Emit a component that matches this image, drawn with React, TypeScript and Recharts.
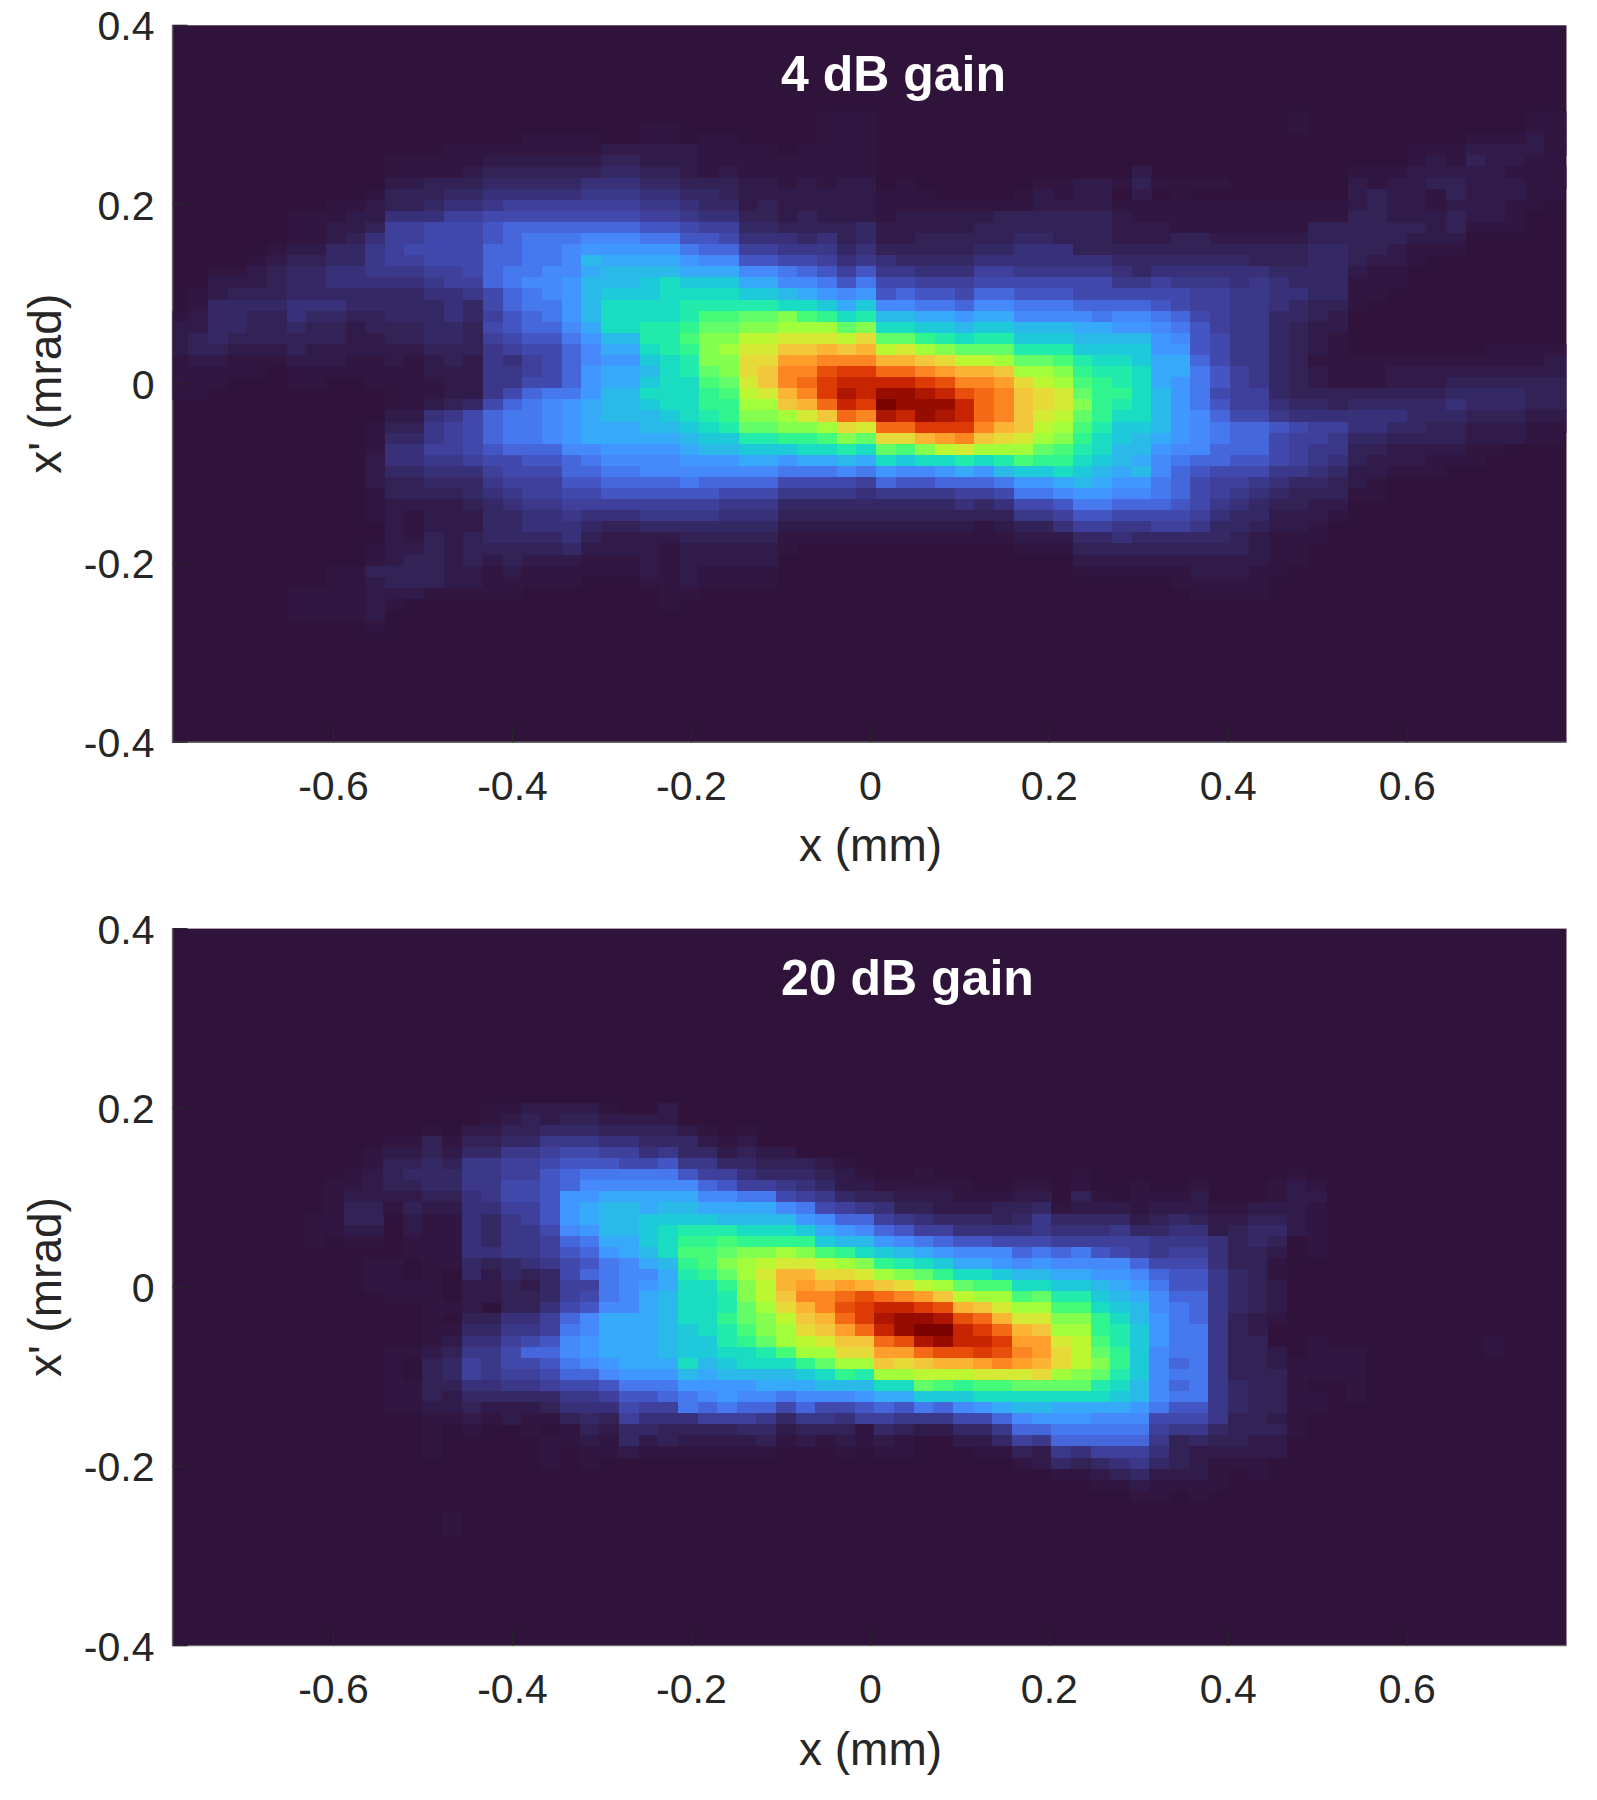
import React from "react";
import { ScatterChart, Scatter, XAxis, YAxis, CartesianGrid } from "recharts";

const xTickValues = [-0.6, -0.4, -0.2, 0, 0.2, 0.4, 0.6];
const yTickValues = [-0.4, -0.2, 0, 0.2, 0.4];
const titles = ["4 dB gain", "20 dB gain"];
const xLabel = "x (mm)";
const yLabel = "x' (mrad)";

const levelColors = [
  "#30133a", "#301640", "#311b4a", "#332256", "#352965", "#383079", "#3b388a", "#3e409c", "#4149ac",
  "#4456c4", "#4667dc", "#4678ee", "#4589fb", "#3f97ff", "#36a9f8", "#2bb9ea", "#1ecad9", "#1adcc3",
  "#23ebab", "#30f58f", "#47fb78", "#62fd68", "#84ff4f", "#a2fd3a", "#bdf731", "#d4ea35", "#e5da38",
  "#f2c73b", "#fbb433", "#fe9f2b", "#fc8622", "#f56a16", "#e84f0b", "#dd3a06", "#c72502", "#ad1701",
  "#960d00", "#7a0300",
];
const levelKeys = "0123456789abcdefghijklmnopqrstuvwxyzAB";

const topLeft = [
  "000000000000000000000000","000000000000000000000000","000000000000000000111100","000000000000001111111122",
  "000000000001111122222233","000000000001111233333344","000000000002233344444555","000000000013334455555666",
  "000000001123345567777777","000000111225557788888888","00000011223778889aaaaaaa","00000011235778889abbbccc",
  "0000012244678888aabbcddd","0000123344677888aabbcfee","0011234455666778abbcceff","0022234455555677abccdfff",
  "01233344444445568abcdfgg","01444455544444548abbdfhh","124433544334445479abdfhh","224433433233344389aacehh",
  "23433333322334437899bdff","23322232222223336788acee","12211122211212326578acdd","11111011111112226678adee",
  "11100011001111226688adee","110000000001112268abbdff","00000000000112348abcdeff","0000000000022568abbcdeff",
  "0000000000133678abbcdeee","0000000000144678abbcdeee","00000000001557789aaaccdd","00000000002556678899abcc",
  "00000000002445557888aabb","0000000000233444677799aa","000000000013333456778899","000000000012222345667777",
  "000000000012122244556555","000000000002122244555433","000000000002132344445322","000000000012232333334222",
  "000000000012332323222111","000000001133332212111111","000000001123332211111000","000000111122211111000000",
  "000000111121000000000000","000000111120000000000000","000000000010000000000000",
];
const topMiddle = [
  "000000000111000000000000","110000000111000000000000","110110000111000000000000","222111101111000000000000",
  "222111111111000000000000","332121111111000000000000","443332212122010000001122","554432222222111000012122",
  "665442322222111111112222","776553323222122222333333","998774433334222223333333","bb9985554534223333344333",
  "ddbaa7766645333334455533","eedcc9988756544445555555","ffeeeccba979665557766666","ghgggeeccb9b887778888888",
  "ghhhhggfedcd9a998aa99988","hhiiiiihhgegccbbaccbbbaa","hhikkllmkjhiffeedeeccccb","iijllmmnnnlmhhggfggfffee",
  "iikmmoopppoqlljihiigggff","hijmnpprrsrsopnmllliiigg","ghimmqqttuuussrqoonllkih","fhilmqruuwxxvvutssrnnmji",
  "ghhklpruvxyyyyxwuutqonkj","hhhjkopsuxzyAAzywvurqplj","ghhjjnnrsvyxBAAAyvurqpmj","fghijmmnprvuzyAzyvurpolj",
  "ffghillmmnqpvvxxxusronki","eefggiijjkmlqqsturqpnmjh","ddeffggghhihlkmopnnnlkih","ccdddeedeefehghhihikjjhg",
  "cccccccbbbcbdccdedfgghgf","aabaaaa88887a99aaabddefe","9999888666656666778bbcdd","7777666444444444545889bb",
  "666655533333333333366799","444444422222222221233577","223333311111111111122244","212222210000000000011133",
  "212222200000000000000022","212111100000000000000011","112111100000000000000000","011000000000000000000000",
  "010000000000000000000000","000000000000000000000000","000000000000000000000000",
];
const topRight = [
  "000000000100000000000111","000000000100000000000111","000000000000000000111211","000000000000000111222211",
  "000000000000000121322110","020000000000111222221111","131111000000212233222111","020100000000232213222110",
  "111111111111232212221100","211111111111332223221000","222111111133333323111000","222332222233333222000000",
  "333333333344332111000000","444444433344322100000000","545555554444211000000000","667666565444111000000000",
  "888877665544110000000000","aa9877665433100000000000","ccba87664432000000000000","ddcb97664322000000000000",
  "ffdc98664321000000000000","ggdd98664321000000011111","hgeea8664311111111111122","iheeb9764321112222222222",
  "ihedb9764321112223333333","jhfdb8774333333334444333","ihfdb9775443444445444333","hhfdca886555555444333222",
  "ggfdcbaa9877554433222111","gfedcbaa8776443333222110","ffdccaaa8766332222110000","fecbaa998765322211100000",
  "efca98886654221110000000","ddba87765443210000000000","ccba87654333110000000000","aaa986543322000000000000",
  "888875442221000000000000","667764432210000000000000","544444321110000000000000","333333321100000000000000",
  "222222221100000000000000","111122211000000000000000","000111110000000000000000","000011110000000000000000",
  "000000000000000000000000","000000000000000000000000","000000000000000000000000",
];

const bottomLeft = [
  "00000000000000001122221002000000","00000000000000001232332222000000","00000000000001022334443333210100",
  "00000000000113133446665544421200","00000000001223244667887756442322","00000000001334366778999889664433",
  "00000000012344466779abbbbb977544","00000000112334466889acccccca9776","00000000122223356889ddeeeeeccbb8",
  "00000000133132255779deffeffeeeec","00000001133021154679deffggggffff","00000001122021154668cdffghiiihhh",
  "00000001011011154667abeeghjjkjjj","000000000000111556679adefhkklmmn","0000000000110114345689bcefjkmnop",
  "000000000011010424348abcceijlnps","0000000000111102232477bcdehhjmos","0000000000011102233478bcefhhimor",
  "0000000000000112033589ccefhhilnq","00000000000001033557aceeefhhjlmo","00000000000001144667bceeefghikmn",
  "00000000000001255789cdeeefggijln","000000000001123668aacdeeefgghhik","00000000000103476889bcdeeehfghhh",
  "00000000000103476778aacdddfeffff","00000000000113355667889bbbddddee","0000000000011324444466799abcdccb",
  "00000000000112232223555877babaa8","00000000000001121211343755577764","00000000000001010010132443333442",
  "00000000000001000001121423222231","00000000000001000001011211111110","00000000000000000001010000000000",
  "00000000000000000000000000000000","00000000000000000000000000000000","00000000000000000000000000000000",
  "00000000000000000000000000000000","00000000000000100000000000000000","00000000000000100000000000000000",
];
const bottomRight = [
  "","","","","","321","43210010000000100000000001","542211111001101001001000121",
  "764332221112203101112000122","b87653322233412221222112221","dcaa76544434644442343223321",
  "gedca9775555655564455234421","jgffdcba9988877777666534301","mkjhgfedcccabab987677533201",
  "ponmjihgeedcdcccca8885331","sqqpnmljhhgffeeddca996431","tstsrqonlkkhhggfedb996432",
  "uuvwvutronnkliigfecaa6432","suwxyyxwsrpnnkkhgfcba6432","rsvxzAAzwvsppmmjhfdba6321",
  "qrtvyABByxvsrnnjigdbb6320","oprrvwzAyyxttpokigdbb633001000000001","nnqqttvwwxwutqoljgcbb633201110000001",
  "jlnnrqrsstutsqomjgcab63321111","ghjinnooopppqnmligcbb63331111","efffhhlkjkkllllihfcab64331001",
  "cccdeeggghhhhhhhgfcbb64331101","a889a9bacdeffeeeedb99643311","6657766688acdddccc88863321",
  "33314322446aabbbbb76643331","2121210022476aaaaa63433220","0010110001132657775322222",
  "000000000001243456432111","000000000000011234222101","0000000000000001121111","000000000000000001101",
  "","","",
];

const xDomain = [-0.78, 0.778];
const yDomain = [-0.4, 0.4];
const plotW = 1394;
const plotH = 717;
const cellW = 19.65;
const cellH = 11.09;

const toCells = (rows, firstEdgeX, firstEdgeY) => {
  const out = [];
  const dx = (cellW / plotW) * (xDomain[1] - xDomain[0]);
  const dy = (cellH / plotH) * (yDomain[1] - yDomain[0]);
  rows.forEach((row, r) => {
    row.split("").forEach((ch, c) => {
      const level = levelKeys.indexOf(ch);
      if (level > 0) {
        out.push({ x: firstEdgeX + (c + 0.5) * dx, y: firstEdgeY - (r + 0.5) * dy, level });
      }
    });
  });
  return out;
};

const topRows = topLeft.map((r, i) => r + topMiddle[i] + topRight[i]);
const bottomRows = bottomLeft.map((r, i) => r + bottomRight[i]);
const topCells = toCells(topRows, -0.7843, 0.3044);
const bottomCells = toCells(bottomRows, -0.7862, 0.2058);

const font = "'Liberation Sans', Arial, sans-serif";
const ink = "#262626";
const box = "#6a6a6a";

const fmt = (v) => (v === 0 ? "0" : String(v));

const cellShape = (p) => (
  <rect
    x={p.cx - cellW / 2}
    y={p.cy - cellH / 2}
    width={cellW + 0.4}
    height={cellH + 0.4}
    fill={levelColors[p.payload.level]}
    shapeRendering="crispEdges"
  />
);

const bottomTick = ({ x, y, payload }) => (
  <g>
    <line x1={x} x2={x} y1={y} y2={y - 15} stroke={ink} strokeWidth={1.2} />
    <text x={x} y={y + 57.7} textAnchor="middle" fontSize={41} fontFamily={font} fill={ink}>
      {fmt(payload.value)}
    </text>
  </g>
);
const topTick = ({ x, y }) => <line x1={x} x2={x} y1={y} y2={y + 15} stroke={ink} strokeWidth={1.2} />;
const leftTick = ({ x, y, payload }) => (
  <g>
    <line x1={x} x2={x + 15} y1={y} y2={y} stroke={ink} strokeWidth={1.2} />
    <text x={x - 18} y={y + 15} textAnchor="end" fontSize={41} fontFamily={font} fill={ink}>
      {fmt(payload.value)}
    </text>
  </g>
);
const rightTick = ({ x, y }) => <line x1={x} x2={x - 15} y1={y} y2={y} stroke={ink} strokeWidth={1.2} />;

function Panel({ cells, title, top, height }) {
  const plotLeft = 164.5;
  const chartW = 1589;
  return (
    <ScatterChart
      width={chartW}
      height={height}
      margin={{ top, right: chartW - plotLeft - plotW, bottom: 0, left: 0 }}
    >
      <CartesianGrid horizontal={false} vertical={false} fill={levelColors[0]} />
      <Scatter data={cells} dataKey="y" shape={cellShape} isAnimationActive={false} />
      <XAxis
        type="number"
        dataKey="x"
        domain={xDomain}
        ticks={xTickValues}
        allowDataOverflow
        height={height - top - plotH}
        tickSize={0}
        tickMargin={0}
        tickLine={false}
        tick={bottomTick}
        interval={0}
        axisLine={{ stroke: box, strokeWidth: 1.4 }}
      />
      <XAxis
        xAxisId="top"
        orientation="top"
        type="number"
        domain={xDomain}
        ticks={xTickValues}
        allowDataOverflow
        height={0}
        tickSize={0}
        tickMargin={0}
        tickLine={false}
        tick={topTick}
        interval={0}
        axisLine={{ stroke: box, strokeWidth: 1.4 }}
      />
      <YAxis
        type="number"
        dataKey="y"
        domain={yDomain}
        ticks={yTickValues}
        allowDataOverflow
        width={plotLeft}
        tickSize={0}
        tickMargin={0}
        tickLine={false}
        tick={leftTick}
        interval={0}
        axisLine={{ stroke: box, strokeWidth: 1.4 }}
      />
      <YAxis
        yAxisId="right"
        orientation="right"
        type="number"
        domain={yDomain}
        ticks={yTickValues}
        allowDataOverflow
        width={0}
        tickSize={0}
        tickMargin={0}
        tickLine={false}
        tick={rightTick}
        interval={0}
        axisLine={{ stroke: box, strokeWidth: 1.4 }}
      />
      <text x={773} y={top + 66} fontSize={50} fontWeight="bold" fontFamily={font} fill="#ffffff">
        {title}
      </text>
      <text x={plotLeft + 698} y={top + plotH + 119} textAnchor="middle" fontSize={46} fontFamily={font} fill={ink}>
        {xLabel}
      </text>
      <text
        x={53}
        y={top + plotH / 2}
        textAnchor="middle"
        fontSize={46}
        fontFamily={font}
        fill={ink}
        transform={`rotate(-90 53 ${top + plotH / 2})`}
      >
        {yLabel}
      </text>
    </ScatterChart>
  );
}

export default function App() {
  return (
    <div style={{ width: 1589, height: 1780, marginTop: -8 }}>
      <div style={{ height: 905 }}>
        <Panel cells={topCells} title={titles[0]} top={25.3} height={905} />
      </div>
      <div style={{ height: 875 }}>
        <Panel cells={bottomCells} title={titles[1]} top={23.6} height={875} />
      </div>
    </div>
  );
}
